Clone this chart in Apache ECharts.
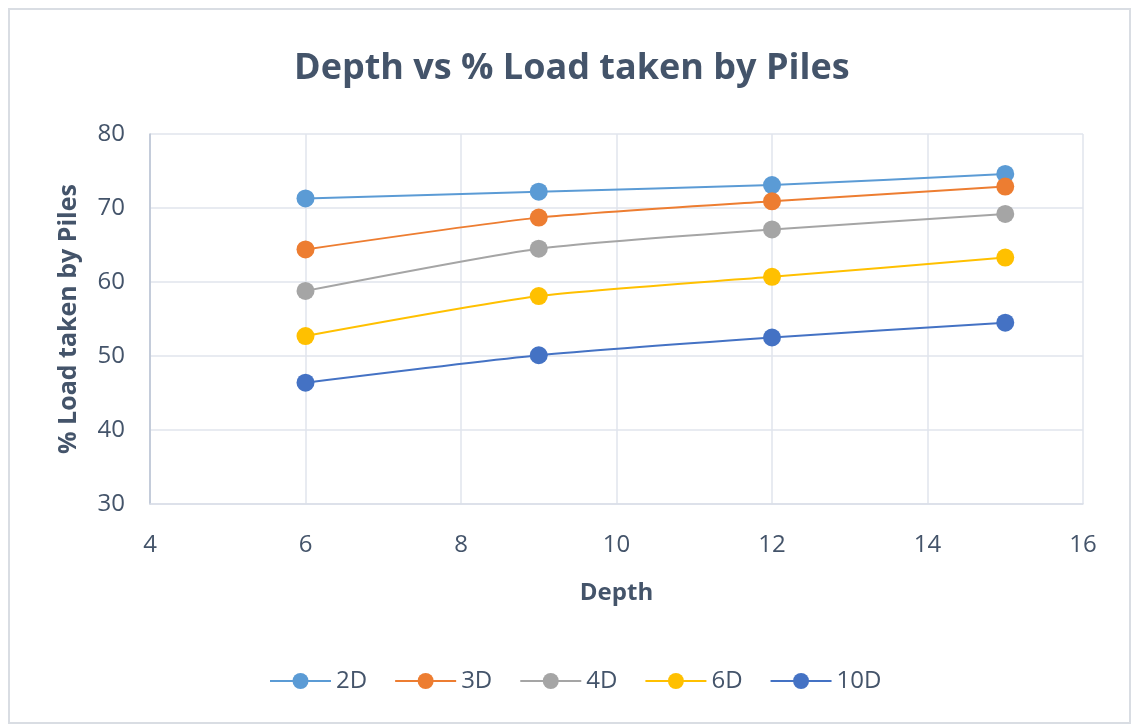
<!DOCTYPE html>
<html>
<head>
<meta charset="utf-8">
<style>
  html, body { margin: 0; padding: 0; background: #ffffff; }
  #chart { width: 1132px; height: 725px; }
</style>
<script src="https://cdn.jsdelivr.net/npm/echarts@6/dist/echarts.min.js"></script>
</head>
<body>
<div id="chart"></div>
<script>
// Pile depth (x) and share of load carried by the piles (%) for each spacing
const depths = [6, 9, 12, 15];
const seriesNames = ['2D', '3D', '4D', '6D', '10D'];
const load2D  = [71.3, 72.2, 73.1, 74.6];
const load3D  = [64.4, 68.7, 70.9, 72.9];
const load4D  = [58.8, 64.5, 67.1, 69.2];
const load6D  = [52.7, 58.1, 60.7, 63.3];
const load10D = [46.4, 50.1, 52.5, 54.5];
const seriesColors = ['#5B9BD5', '#ED7D31', '#A5A5A5', '#FFC000', '#4472C4'];

const allLoads = [load2D, load3D, load4D, load6D, load10D];
const textColor = '#44546A';
const font = "'Open Sans', 'Noto Sans', sans-serif";

const chart = echarts.init(document.getElementById('chart'));
chart.setOption({
  animation: false,
  backgroundColor: '#ffffff',
  graphic: [{
    type: 'rect',
    shape: { x: 9, y: 9, width: 1121, height: 714 },
    style: { fill: 'none', stroke: '#D9DDE3', lineWidth: 2 },
    silent: true
  }],
  title: {
    text: 'Depth vs % Load taken by Piles',
    left: 289,
    top: 46,
    textStyle: { fontFamily: font, fontSize: 36, fontWeight: 'bold', color: textColor }
  },
  legend: {
    data: seriesNames,
    bottom: 27,
    left: 264,
    itemWidth: 61,
    itemHeight: 20,
    itemGap: 27,
    textStyle: { fontFamily: font, fontSize: 24, color: textColor }
  },
  grid: { left: 150, right: 49, top: 134, bottom: 221, containLabel: false },
  xAxis: {
    type: 'value',
    min: 4, max: 16, interval: 2,
    name: 'Depth',
    nameLocation: 'middle',
    nameGap: 77,
    nameTextStyle: { fontFamily: font, fontSize: 24, fontWeight: 'bold', color: textColor },
    axisLine: { show: true, lineStyle: { color: '#D9DEE8', width: 1.5 } },
    axisTick: { show: false },
    splitLine: { show: true, lineStyle: { color: '#E1E5EC', width: 1.5 } },
    axisLabel: { fontFamily: font, fontSize: 24, color: textColor, margin: 29 }
  },
  yAxis: {
    type: 'value',
    min: 30, max: 80, interval: 10,
    name: '% Load taken by Piles',
    nameLocation: 'middle',
    nameRotate: 90,
    nameGap: 69,
    nameTextStyle: { fontFamily: font, fontSize: 25, fontWeight: 'bold', color: textColor },
    axisLine: { show: true, lineStyle: { color: '#B8C2D2', width: 1.5 } },
    axisTick: { show: false },
    splitLine: { show: true, lineStyle: { color: '#E1E5EC', width: 1.5 } },
    axisLabel: { fontFamily: font, fontSize: 24, color: textColor, margin: 25 }
  },
  series: seriesNames.map((name, i) => ({
    name: name,
    type: 'line',
    smooth: 0.2,
    symbol: 'circle',
    symbolSize: 18,
    data: depths.map((d, j) => [d, allLoads[i][j]]),
    itemStyle: { color: seriesColors[i] },
    lineStyle: { color: seriesColors[i], width: 2 }
  }))
});
</script>
</body>
</html>
